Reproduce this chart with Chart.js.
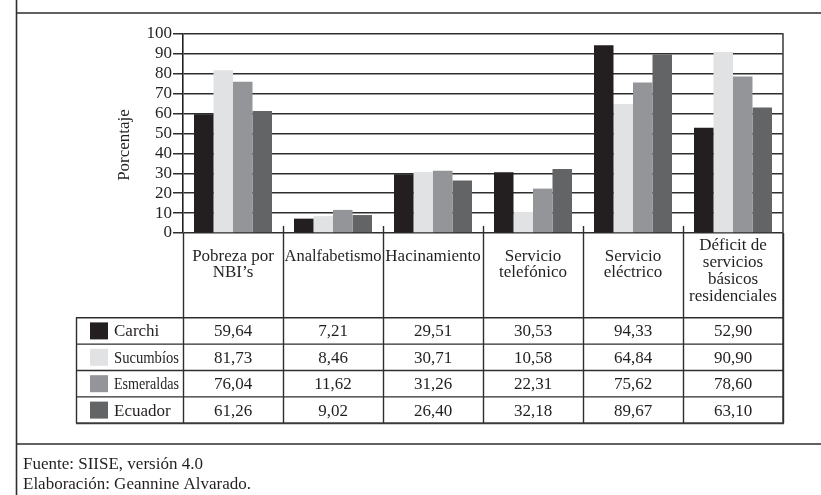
<!DOCTYPE html>
<html>
<head>
<meta charset="utf-8">
<script src="https://cdn.jsdelivr.net/npm/chart.js@4/dist/chart.umd.min.js"></script>
<style>
  html, body { margin: 0; padding: 0; background: #fff; }
  #wrap { width: 821px; height: 495px; position: relative; }
</style>
</head>
<body>
<div id="wrap"><canvas id="c" width="821" height="495"></canvas></div>
<script>
// Indicator categories (multi-line header labels of the data table)
const categories = [
  ["Pobreza por", "NBI’s"],
  ["Analfabetismo"],
  ["Hacinamiento"],
  ["Servicio", "telefónico"],
  ["Servicio", "eléctrico"],
  ["Déficit de", "servicios", "básicos", "residenciales"]
];

// Series (provinces and national total), percentages
const seriesNames = ["Carchi", "Sucumbíos", "Esmeraldas", "Ecuador"];
const carchi     = [59.64,  7.21, 29.51, 30.53, 94.33, 52.90];
const sucumbios  = [81.73,  8.46, 30.71, 10.58, 64.84, 90.90];
const esmeraldas = [76.04, 11.62, 31.26, 22.31, 75.62, 78.60];
const ecuador    = [61.26,  9.02, 26.40, 32.18, 89.67, 63.10];

// Y axis ticks
const yTicks = [0, 10, 20, 30, 40, 50, 60, 70, 80, 90, 100];

const seriesValues = [carchi, sucumbios, esmeraldas, ecuador];
const seriesColors = ["#231f20", "#e1e2e4", "#939598", "#636466"];

const FONT = "'Liberation Serif', 'Times New Roman', serif";
const INK = "#231f20";
const LINE = "#2e2e2e";

const fmt = v => v.toFixed(2).replace(".", ",");

// Draws the frame, the data table under the plot, the y-axis title and footnotes
const tablePlugin = {
  id: "tablePlugin",
  afterDraw(chart) {
    const ctx = chart.ctx;
    const xs = chart.scales.x;
    const area = chart.chartArea;
    const n = categories.length;
    const colW = (area.right - area.left) / n;
    const edges = [];
    for (let i = 0; i <= n; i++) {
      edges.push(i === n ? area.right : xs.getPixelForValue(i) - colW / 2);
    }

    const headerBottom = 317.7;
    const rowH = 26.4;
    const tableLeft = 76;
    const tableBottom = headerBottom + rowH * seriesNames.length;

    ctx.save();
    ctx.strokeStyle = LINE;
    ctx.lineCap = "butt";

    // Outer frame
    ctx.lineWidth = 1.6;
    ctx.beginPath();
    ctx.moveTo(16.5, 0); ctx.lineTo(16.5, 495);
    ctx.moveTo(16, 13); ctx.lineTo(821, 13);
    ctx.moveTo(16, 444); ctx.lineTo(821, 444);
    ctx.stroke();

    // Right border of plot
    ctx.lineWidth = 1.6;
    ctx.strokeStyle = "#444";
    ctx.beginPath();
    ctx.moveTo(area.right, area.top - 0.8); ctx.lineTo(area.right, tableBottom);
    ctx.stroke();

    // Category separators: short marks inside plot, continuing through the table
    ctx.strokeStyle = LINE;
    ctx.lineWidth = 1.4;
    ctx.beginPath();
    for (let i = 0; i <= n; i++) {
      const x = Math.round(edges[i]) + 0.5;
      const yTop = (i === 0 || i === n) ? area.bottom : area.bottom - 7;
      ctx.moveTo(x, yTop); ctx.lineTo(x, tableBottom);
    }
    ctx.stroke();

    // Row lines
    ctx.beginPath();
    for (let r = 0; r < seriesNames.length; r++) {
      const y = headerBottom + r * rowH;
      ctx.moveTo(tableLeft, y); ctx.lineTo(area.right, y);
    }
    ctx.moveTo(tableLeft + 0.5, headerBottom); ctx.lineTo(tableLeft + 0.5, tableBottom);
    ctx.stroke();
    ctx.lineWidth = 2;
    ctx.strokeStyle = "#3a3a3a";
    ctx.beginPath();
    ctx.moveTo(tableLeft, tableBottom); ctx.lineTo(area.right + 1, tableBottom);
    ctx.stroke();

    // Header labels
    ctx.fillStyle = INK;
    ctx.font = "17px " + FONT;
    ctx.textAlign = "center";
    ctx.textBaseline = "middle";
    categories.forEach((lines, i) => {
      const cx = xs.getPixelForValue(i);
      const long = lines.length > 2;
      const start = long ? 246 : 257;
      const step = long ? 17 : 16;
      lines.forEach((t, k) => ctx.fillText(t, cx, start + k * step, colW - 3));
    });

    // Legend column and values
    seriesNames.forEach((name, r) => {
      const yc = headerBottom + r * rowH + rowH / 2;
      ctx.fillStyle = seriesColors[r];
      ctx.fillRect(90, yc - 8.5, 18, 17);
      ctx.fillStyle = INK;
      ctx.textAlign = "left";
      ctx.fillText(name, 114, yc + 1, 65);
      ctx.textAlign = "center";
      seriesValues[r].forEach((v, i) => {
        ctx.fillText(fmt(v), xs.getPixelForValue(i), yc + 1);
      });
    });

    // Y-axis title
    ctx.save();
    ctx.translate(125, 145);
    ctx.rotate(-Math.PI / 2);
    ctx.textAlign = "center";
    ctx.fillText("Porcentaje", 0, 0);
    ctx.restore();

    // Heading (clipped at the top edge) and footnotes
    ctx.textAlign = "left";
    ctx.textBaseline = "alphabetic";
    ctx.fillStyle = "#a8a8a8";
    ctx.font = "bold 17px " + FONT;
    ctx.fillText("Gráfico 4: Indicadores socioeconómicos en la frontera norte", 30, -1.5);
    ctx.fillStyle = INK;
    ctx.font = "17px " + FONT;
    ctx.fillText("Fuente: SIISE, versión 4.0", 23, 469);
    ctx.fillText("Elaboración: Geannine Alvarado.", 23, 489);
    ctx.restore();
  }
};

new Chart(document.getElementById("c"), {
  type: "bar",
  data: {
    labels: categories,
    datasets: seriesNames.map((name, i) => ({
      label: name,
      data: seriesValues[i],
      backgroundColor: seriesColors[i],
      borderWidth: 0,
      categoryPercentage: 0.78,
      barPercentage: 1.0
    }))
  },
  options: {
    responsive: false,
    animation: false,
    devicePixelRatio: 1,
    layout: { padding: { left: 0, right: 38, top: 34, bottom: 262 } },
    plugins: { legend: { display: false }, tooltip: { enabled: false }, title: { display: false } },
    scales: {
      x: { display: false },
      y: {
        min: 0,
        max: 100,
        afterFit: s => { s.width = 183; },
        afterBuildTicks: s => { s.ticks = yTicks.map(v => ({ value: v })); },
        ticks: { color: INK, font: { family: FONT, size: 17 }, padding: 1, autoSkip: false },
        grid: { color: LINE, lineWidth: 1.5, tickLength: 10, tickColor: LINE },
        border: { color: INK, width: 1.6 }
      }
    }
  },
  plugins: [tablePlugin]
});
</script>
</body>
</html>
